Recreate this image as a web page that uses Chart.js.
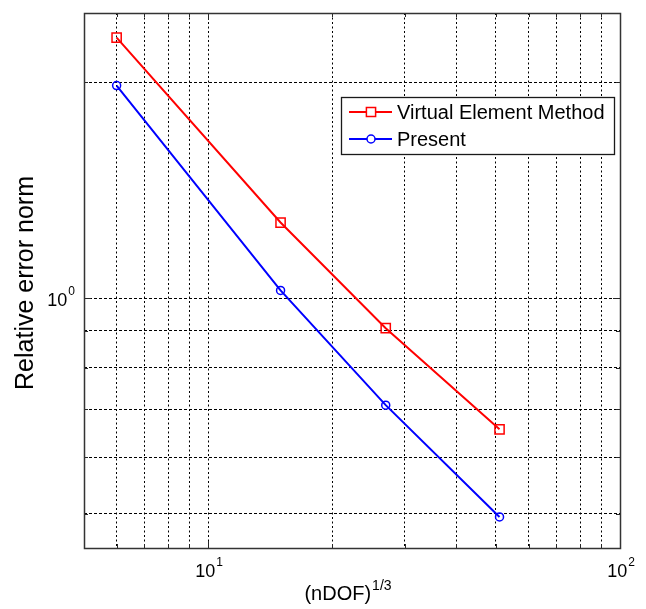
<!DOCTYPE html>
<html>
<head>
<meta charset="utf-8">
<title>Relative error norm</title>
<script src="https://cdn.jsdelivr.net/npm/chart.js@4.4.1/dist/chart.umd.min.js"></script>
<style>
	html, body { margin: 0; padding: 0; background: #fff; }
	#wrap { width: 646px; height: 609px; }
</style>
</head>
<body>
<div id="wrap"><canvas id="errorChart" width="646" height="609"></canvas></div>
<script>
'use strict'

/*-----Data-----*/
var dofRoot = [6, 15, 27, 51];
var vemError = [2.31, 1.275, 0.908, 0.656];
var presentError = [1.98, 1.025, 0.709, 0.495];
var seriesLabels = ['Virtual Element Method', 'Present'];

// grid positions on the log axes, decades get a 10^n label
var xGrid = [6, 7, 8, 9, 10, 20, 30, 40, 50, 60, 70, 80, 90, 100];
var yGrid = [0.5, 0.6, 0.7, 0.8, 0.9, 1, 2];
var xDecades = [10, 100];
var yDecades = [1];

var FONT = '"Liberation Sans", Arial, Helvetica, sans-serif';

function toPoints(xs, ys) {
	return xs.map(function(x, i) { return { x: x, y: ys[i] }; });
}

function setTicks(values) {
	return function(scale) {
		scale.ticks = values.map(function(v) { return { value: v }; });
	};
}

// "10" with a raised exponent
function drawPower(ctx, value, x, y, align) {
	var exp = String(Math.round(Math.log10(value)));
	ctx.font = '18px ' + FONT;
	var baseW = ctx.measureText('10').width;
	ctx.font = '12px ' + FONT;
	var expW = ctx.measureText(exp).width;
	var left = align === 'right' ? x - baseW - expW - 1 : x - (baseW + expW + 1) / 2;
	ctx.textAlign = 'left';
	ctx.textBaseline = 'alphabetic';
	ctx.font = '18px ' + FONT;
	ctx.fillText('10', left, y);
	ctx.font = '12px ' + FONT;
	ctx.fillText(exp, left + baseW + 1, y - 11);
}

/*-----Frame, ticks, labels and legend-----*/
var frame = {
	id: 'frame',
	afterDraw: function(chart) {
		var ctx = chart.ctx;
		var a = chart.chartArea;
		var xs = chart.scales.x;
		var ys = chart.scales.y;
		ctx.save();

		// inward tick marks on all four sides
		ctx.strokeStyle = '#262626';
		ctx.lineWidth = 1;
		ctx.beginPath();
		xGrid.forEach(function(v) {
			var px = Math.round(xs.getPixelForValue(v)) + 0.5;
			var len = xDecades.indexOf(v) >= 0 ? 7 : 4;
			ctx.moveTo(px, a.bottom); ctx.lineTo(px, a.bottom - len);
			ctx.moveTo(px, a.top); ctx.lineTo(px, a.top + len);
		});
		yGrid.forEach(function(v) {
			var py = Math.round(ys.getPixelForValue(v)) + 0.5;
			var len = yDecades.indexOf(v) >= 0 ? 7 : 4;
			ctx.moveTo(a.left, py); ctx.lineTo(a.left + len, py);
			ctx.moveTo(a.right, py); ctx.lineTo(a.right - len, py);
		});
		ctx.stroke();

		// axes box
		ctx.strokeStyle = '#333';
		ctx.lineWidth = 1.5;
		ctx.strokeRect(Math.round(a.left) + 0.5, Math.round(a.top) + 0.5,
			Math.round(a.right - a.left), Math.round(a.bottom - a.top));

		// tick labels
		ctx.fillStyle = '#000';
		xDecades.forEach(function(v) {
			drawPower(ctx, v, xs.getPixelForValue(v) + 1, a.bottom + 29, 'center');
		});
		yDecades.forEach(function(v) {
			drawPower(ctx, v, a.left - 9, ys.getPixelForValue(v) + 8, 'right');
		});

		// x axis title with superscript
		ctx.font = '20px ' + FONT;
		var main = '(nDOF)';
		var mainW = ctx.measureText(main).width;
		ctx.font = '14px ' + FONT;
		var sup = '1/3';
		var supW = ctx.measureText(sup).width;
		var start = (a.left + a.right) / 2 - 4 - (mainW + supW + 1) / 2;
		ctx.textAlign = 'left';
		ctx.font = '20px ' + FONT;
		ctx.fillText(main, start, 600);
		ctx.font = '14px ' + FONT;
		ctx.fillText(sup, start + mainW + 1, 590);

		// y axis title
		ctx.save();
		ctx.translate(33, 283);
		ctx.rotate(-Math.PI / 2);
		ctx.textAlign = 'center';
		ctx.font = '25px ' + FONT;
		ctx.fillText('Relative error norm', 0, 0);
		ctx.restore();

		// legend box
		var box = { left: 341, top: 97, right: 614, bottom: 154 };
		ctx.fillStyle = '#fff';
		ctx.fillRect(box.left, box.top, box.right - box.left, box.bottom - box.top);
		ctx.strokeStyle = '#1a1a1a';
		ctx.lineWidth = 1.3;
		ctx.strokeRect(box.left + 0.5, box.top + 0.5, box.right - box.left, box.bottom - box.top);
		chart.data.datasets.forEach(function(ds, i) {
			var cy = 112 + i * 27;
			ctx.strokeStyle = ds.borderColor;
			ctx.lineWidth = ds.borderWidth;
			ctx.beginPath();
			ctx.moveTo(349, cy);
			ctx.lineTo(392, cy);
			ctx.stroke();
			ctx.fillStyle = '#fff';
			ctx.strokeStyle = ds.pointBorderColor;
			ctx.lineWidth = ds.pointBorderWidth;
			Chart.helpers.drawPoint(ctx, {
				pointStyle: ds.pointStyle,
				radius: ds.pointRadius,
				rotation: 0,
				borderWidth: ds.pointBorderWidth
			}, 371, cy);
			ctx.fillStyle = '#000';
			ctx.textAlign = 'left';
			ctx.textBaseline = 'middle';
			ctx.font = '20px ' + FONT;
			ctx.fillText(ds.label, 397, cy + 1);
		});
		ctx.restore();
	}
};

/*-----ConvergenceChart-----*/
var ctx = document.getElementById('errorChart');
var myChart = new Chart(ctx, {
	type: 'scatter',
	data: {
		datasets: [{
			label: seriesLabels[0],
			data: toPoints(dofRoot, vemError),
			showLine: true,
			borderColor: '#ff0000',
			borderWidth: 2,
			pointStyle: 'rect',
			pointRadius: 6.5,
			pointBorderColor: '#ff0000',
			pointBackgroundColor: 'rgba(0,0,0,0)',
			pointBorderWidth: 1.5
		}, {
			label: seriesLabels[1],
			data: toPoints(dofRoot, presentError),
			showLine: true,
			borderColor: '#0000ff',
			borderWidth: 2,
			pointStyle: 'circle',
			pointRadius: 4,
			pointBorderColor: '#0000ff',
			pointBackgroundColor: 'rgba(0,0,0,0)',
			pointBorderWidth: 1.5
		}]
	},
	options: {
		responsive: false,
		animation: false,
		devicePixelRatio: 1,
		layout: {
			padding: { left: 84, right: 26, top: 13, bottom: 61 }
		},
		plugins: {
			legend: { display: false },
			tooltip: { enabled: false }
		},
		scales: {
			x: {
				type: 'logarithmic',
				min: 5,
				max: 100,
				afterBuildTicks: setTicks(xGrid),
				ticks: { display: false },
				grid: { color: '#000', lineWidth: 1, drawTicks: false },
				border: { display: false, dash: [2, 2.5] }
			},
			y: {
				type: 'logarithmic',
				min: 0.448,
				max: 2.5,
				afterBuildTicks: setTicks(yGrid),
				ticks: { display: false },
				grid: { color: '#000', lineWidth: 1, drawTicks: false },
				border: { display: false, dash: [3, 2] }
			}
		}
	},
	plugins: [frame]
});
</script>
</body>
</html>
